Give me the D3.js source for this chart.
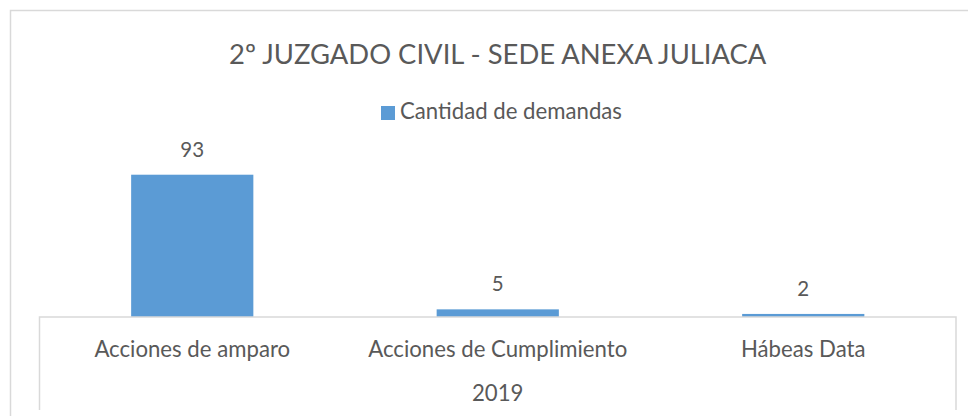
<!DOCTYPE html>
<html>
<head>
<meta charset="utf-8">
<script src="https://cdn.jsdelivr.net/npm/d3@7"></script>
<style>
  html, body { margin: 0; padding: 0; background: #fff; }
  svg { display: block; font-family: Lato, "Open Sans", sans-serif; }
</style>
</head>
<body>
<div id="chart"></div>
<script>
// data
const categories = ["Acciones de amparo", "Acciones de Cumplimiento", "Hábeas Data"];
const demandas = [93, 5, 2];
const groupLabel = "2019";
const seriesName = "Cantidad de demandas";
const chartTitle = "2º JUZGADO CIVIL - SEDE ANEXA JULIACA";

const width = 968, height = 416;
const plot = { left: 39.5, right: 956, top: 164, bottom: 317 };
const textColor = "#595959";
const barColor = "#5b9bd5";
const lineColor = "#d9d9d9";

const svg = d3.select("#chart").append("svg")
    .attr("width", width)
    .attr("height", height);

// outer chart frame (cut off on the right and bottom)
svg.append("rect")
    .attr("x", 10.5).attr("y", 10.5)
    .attr("width", width + 20).attr("height", height + 20)
    .attr("fill", "#fff")
    .attr("stroke", lineColor)
    .attr("stroke-width", 1.5);

// scales
const x = d3.scaleBand()
    .domain(categories)
    .range([plot.left, plot.right])
    .paddingInner(0.6)
    .paddingOuter(0.3);

const y = d3.scaleLinear()
    .domain([0, 100])
    .range([plot.bottom, plot.top]);

// title
svg.append("text")
    .attr("x", (plot.left + plot.right) / 2)
    .attr("y", 64)
    .attr("text-anchor", "middle")
    .attr("fill", textColor)
    .style("font-size", "27.4px")
    .text(chartTitle);

// legend
const legend = svg.append("g");
legend.append("rect")
    .attr("x", 381).attr("y", 106)
    .attr("width", 14).attr("height", 14)
    .attr("fill", barColor);
legend.append("text")
    .attr("x", 400).attr("y", 119)
    .attr("fill", textColor)
    .style("font-size", "22.2px")
    .text(seriesName);

// bars
svg.append("g")
    .selectAll("rect")
    .data(demandas)
    .join("rect")
    .attr("x", (d, i) => x(categories[i]))
    .attr("y", d => y(d))
    .attr("width", x.bandwidth())
    .attr("height", d => y(0) - y(d))
    .attr("fill", barColor);

// value labels
svg.append("g")
    .selectAll("text")
    .data(demandas)
    .join("text")
    .attr("x", (d, i) => x(categories[i]) + x.bandwidth() / 2)
    .attr("y", d => y(d) - 18)
    .attr("text-anchor", "middle")
    .attr("fill", textColor)
    .style("font-size", "20.5px")
    .text(d => d);

// category axis
const axis = svg.append("g")
    .attr("transform", `translate(0,${plot.bottom})`)
    .call(d3.axisBottom(x).tickSize(0).tickPadding(0));
axis.select(".domain").remove();
axis.selectAll(".tick text")
    .attr("y", 39.5)
    .attr("dy", 0)
    .attr("fill", textColor)
    .style("font-family", "Lato, 'Open Sans', sans-serif")
    .style("font-size", "22.2px");

// axis box lines
svg.append("path")
    .attr("d", `M${plot.left},410 V${plot.bottom} H${plot.right} V410`)
    .attr("fill", "none")
    .attr("stroke", lineColor)
    .attr("stroke-width", 1.5);

// group label
svg.append("text")
    .attr("x", (plot.left + plot.right) / 2)
    .attr("y", 400.5)
    .attr("text-anchor", "middle")
    .attr("fill", textColor)
    .style("font-size", "22.2px")
    .text(groupLabel);
</script>
</body>
</html>
